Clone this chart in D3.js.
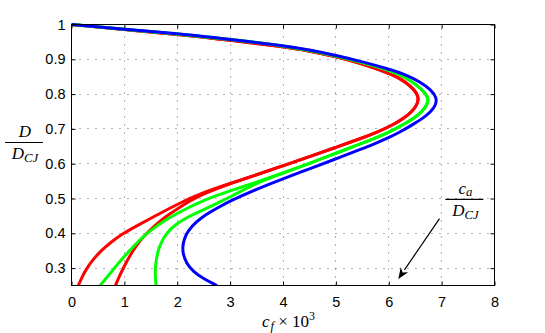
<!DOCTYPE html>
<html>
<head>
<meta charset="utf-8">
<script src="https://cdn.jsdelivr.net/npm/d3@7"></script>
<style>
  html, body { margin: 0; padding: 0; background: #fff; }
  svg { display: block; }
</style>
</head>
<body>
<svg id="chart" width="545" height="333"></svg>
<script>
// ---------- data ----------
const xTicks = [0, 1, 2, 3, 4, 5, 6, 7, 8];
const yTicks = [0.3, 0.4, 0.5, 0.6, 0.7, 0.8, 0.9, 1];
const yTickLabels = ["0.3", "0.4", "0.5", "0.6", "0.7", "0.8", "0.9", "1"];

// upper branches (from D/DCJ = 1 through the turning point), per colour
const upperRed = [[0,1],[1,0.985],[2,0.972],[3,0.955],[4,0.936],[4.5,0.924],[5,0.908],[5.5,0.887],[6,0.86],[6.25,0.842],[6.42,0.822],[6.52,0.805],[6.57,0.787],[6.53,0.768],[6.44,0.75],[6.3,0.732],[6.1,0.713],[5.8,0.692],[5.5,0.674],[5.0,0.647],[4.5,0.62],[4.0,0.594],[3.5,0.568],[3.0,0.543]];
const upperGreen = [[0,1],[1,0.986],[2,0.973],[3,0.957],[4,0.939],[4.5,0.926],[5,0.91],[5.5,0.891],[6,0.869],[6.3,0.85],[6.53,0.826],[6.68,0.805],[6.76,0.787],[6.72,0.768],[6.63,0.75],[6.5,0.733],[6.3,0.714],[6.0,0.69],[5.7,0.671],[5.5,0.659],[5.0,0.63],[4.5,0.601],[4.0,0.573]];
const upperBlue = [[0,1],[1,0.986],[2,0.974],[3,0.957],[4,0.94],[4.5,0.927],[5,0.911],[5.5,0.893],[6,0.872],[6.3,0.857],[6.6,0.835],[6.8,0.812],[6.91,0.79],[6.89,0.768],[6.8,0.75],[6.66,0.732],[6.45,0.712],[6.2,0.69],[6.0,0.675],[5.7,0.655],[5.5,0.643],[5.0,0.614],[4.5,0.585],[4.0,0.557],[3.5,0.527]];

// lower branches
const lowerRedA = [[2.5,0.518],[2.0,0.484],[1.5,0.443],[1.22,0.42],[0.98,0.40],[0.75,0.375],[0.56,0.35],[0.41,0.325],[0.29,0.30],[0.2,0.275],[0.13,0.25]];
const lowerRedB = [[2.5,0.514],[2.25,0.494],[2.0,0.47],[1.75,0.445],[1.55,0.418],[1.4,0.397],[1.24,0.368],[1.1,0.335],[0.98,0.30],[0.9,0.275],[0.83,0.25]];
const lowerGreenA = [[3.5,0.547],[3.0,0.522],[2.5,0.496],[2.0,0.458],[1.8,0.44],[1.6,0.42],[1.39,0.395],[1.2,0.367],[0.98,0.331],[0.76,0.29],[0.65,0.27],[0.54,0.25]];
const lowerGreenB = [[3.5,0.545],[3.0,0.504],[2.75,0.486],[2.5,0.468],[2.2,0.447],[2.0,0.429],[1.87,0.412],[1.75,0.39],[1.67,0.365],[1.62,0.34],[1.59,0.31],[1.58,0.28],[1.6,0.25]];
const lowerBlue = [[3.0,0.493],[2.75,0.472],[2.55,0.455],[2.35,0.432],[2.21,0.408],[2.13,0.385],[2.10,0.36],[2.11,0.34],[2.17,0.315],[2.3,0.29],[2.5,0.269],[2.75,0.25]];

const seriesColors = ["#ff0000", "#ff0000", "#00ff00", "#00ff00", "#0000ff"];
const curves = [
  upperRed.concat(lowerRedA),
  upperRed.concat(lowerRedB),
  upperGreen.concat(lowerGreenA),
  upperGreen.concat(lowerGreenB),
  upperBlue.concat(lowerBlue)
];

// annotation (data coordinates)
const arrowFrom = [6.96, 0.442];
const arrowTo = [6.18, 0.269];
const annotLabelPos = [7.43, 0.4975];

// ---------- layout ----------
(function () {
const svg = d3.select("#chart");
const pL = 71.5, pR = 494.5, pT = 24.5, pB = 285.5;
const x = d3.scaleLinear().domain([0, 8]).range([pL, pR]);
const y = d3.scaleLinear().domain([0.25, 1]).range([pB, pT]);
const snap = v => Math.round(v - 0.5) + 0.5;

// grid
const grid = svg.append("g").attr("stroke", "#000").attr("stroke-opacity", 0.6)
  .attr("stroke-width", 1).attr("stroke-dasharray", "1,7").attr("fill", "none");
xTicks.filter(t => t > 0 && t < 8).forEach(t => {
  grid.append("line").attr("x1", snap(x(t))).attr("x2", snap(x(t)))
    .attr("y1", pB).attr("y2", pT);
});
yTicks.filter(t => t < 1).forEach(t => {
  grid.append("line").attr("y1", snap(y(t))).attr("y2", snap(y(t)))
    .attr("x1", pL).attr("x2", pR);
});

// curves
svg.append("defs").append("clipPath").attr("id", "clip")
  .append("rect").attr("x", pL).attr("y", pT - 3).attr("width", pR - pL).attr("height", pB - pT + 3);
const line = d3.line().x(d => x(d[0])).y(d => y(d[1])).curve(d3.curveBasis);
const cg = svg.append("g").attr("clip-path", "url(#clip)");
curves.forEach((c, i) => {
  cg.append("path").attr("d", line(c)).attr("fill", "none")
    .attr("stroke", seriesColors[i]).attr("stroke-width", 3)
    .attr("stroke-linejoin", "round").attr("stroke-linecap", "butt");
});

// axes
const font = "'Liberation Sans', Arial, Helvetica, sans-serif";
const xAxis = d3.axisBottom(x).tickValues(xTicks).tickFormat(d3.format("d")).tickSize(-4).tickPadding(11);
const yAxis = d3.axisLeft(y).tickValues(yTicks).tickFormat((d, i) => yTickLabels[i]).tickSize(-4).tickPadding(6);
const xTop = d3.axisTop(x).tickValues(xTicks).tickFormat("").tickSize(-4);
const yRight = d3.axisRight(y).tickValues(yTicks).tickFormat("").tickSize(-4);

function style(g) {
  g.selectAll(".domain").remove();
  g.selectAll(".tick line").attr("stroke", "#000");
  g.selectAll("text").attr("font-family", font).attr("font-size", "14.5px").attr("fill", "#000");
}
svg.append("g").attr("transform", `translate(0,${pB})`).call(xAxis).call(style);
svg.append("g").attr("transform", `translate(${pL},0)`).call(yAxis).call(style);
svg.append("g").attr("transform", `translate(0,${pT})`).call(xTop).call(style);
svg.append("g").attr("transform", `translate(${pR},0)`).call(yRight).call(style);

// box
svg.append("rect").attr("x", pL).attr("y", pT).attr("width", pR - pL).attr("height", pB - pT)
  .attr("fill", "none").attr("stroke", "#000").attr("stroke-width", 1);

// axis labels
const serif = "'Liberation Serif', 'Times New Roman', serif";
const xl = svg.append("text").attr("x", 288.5).attr("y", 326.5).attr("text-anchor", "middle")
  .attr("font-family", serif).attr("font-size", "17px").attr("fill", "#000");
xl.append("tspan").attr("font-style", "italic").text("c");
xl.append("tspan").attr("font-style", "italic").attr("font-size", "12.5px").attr("dy", 3).attr("dx", 1).text("f");
xl.append("tspan").attr("dy", -3).text(" × 10");
xl.append("tspan").attr("font-size", "12px").attr("dy", -7).text("3");

function fraction(cx, lineY, x0, x1, num, numSub, den, denSub, size) {
  const g = svg.append("g");
  const t1 = g.append("text").attr("x", cx).attr("y", lineY - 5.5).attr("text-anchor", "middle")
    .attr("font-family", serif).attr("font-size", size + "px").attr("font-style", "italic").attr("fill", "#000");
  t1.append("tspan").text(num);
  if (numSub) t1.append("tspan").attr("font-size", (size * 0.75) + "px").attr("dy", 2.5).text(numSub);
  g.append("line").attr("x1", x0).attr("x2", x1).attr("y1", lineY).attr("y2", lineY)
    .attr("stroke", "#000").attr("stroke-width", 1.2);
  const t2 = g.append("text").attr("x", cx).attr("y", lineY + 16.5).attr("text-anchor", "middle")
    .attr("font-family", serif).attr("font-size", size + "px").attr("font-style", "italic").attr("fill", "#000");
  t2.append("tspan").text(den);
  if (denSub) t2.append("tspan").attr("font-size", (size * 0.75) + "px").attr("dy", 3).text(denSub);
}
fraction(25, 142.5, 5, 43, "D", null, "D", "CJ", 17);
const ax = x(annotLabelPos[0]), ay = y(annotLabelPos[1]);
fraction(ax + 1, ay, ax - 19, ax + 19, "c", "a", "D", "CJ", 17);

// arrow
const ax0 = x(arrowFrom[0]), ay0 = y(arrowFrom[1]), ax1 = x(arrowTo[0]), ay1 = y(arrowTo[1]);
const ang = Math.atan2(ay1 - ay0, ax1 - ax0);
const hl = 11, hw = 4.5;
const bx = ax1 - hl * Math.cos(ang), by = ay1 - hl * Math.sin(ang);
svg.append("line").attr("x1", ax0).attr("y1", ay0).attr("x2", bx).attr("y2", by)
  .attr("stroke", "#000").attr("stroke-width", 1.2);
svg.append("path").attr("d", d3.line()([
  [ax1, ay1],
  [bx + hw * Math.sin(ang), by - hw * Math.cos(ang)],
  [ax1 - hl * 0.7 * Math.cos(ang), ay1 - hl * 0.7 * Math.sin(ang)],
  [bx - hw * Math.sin(ang), by + hw * Math.cos(ang)]
]) + "Z").attr("fill", "#000");
})();
</script>
</body>
</html>
